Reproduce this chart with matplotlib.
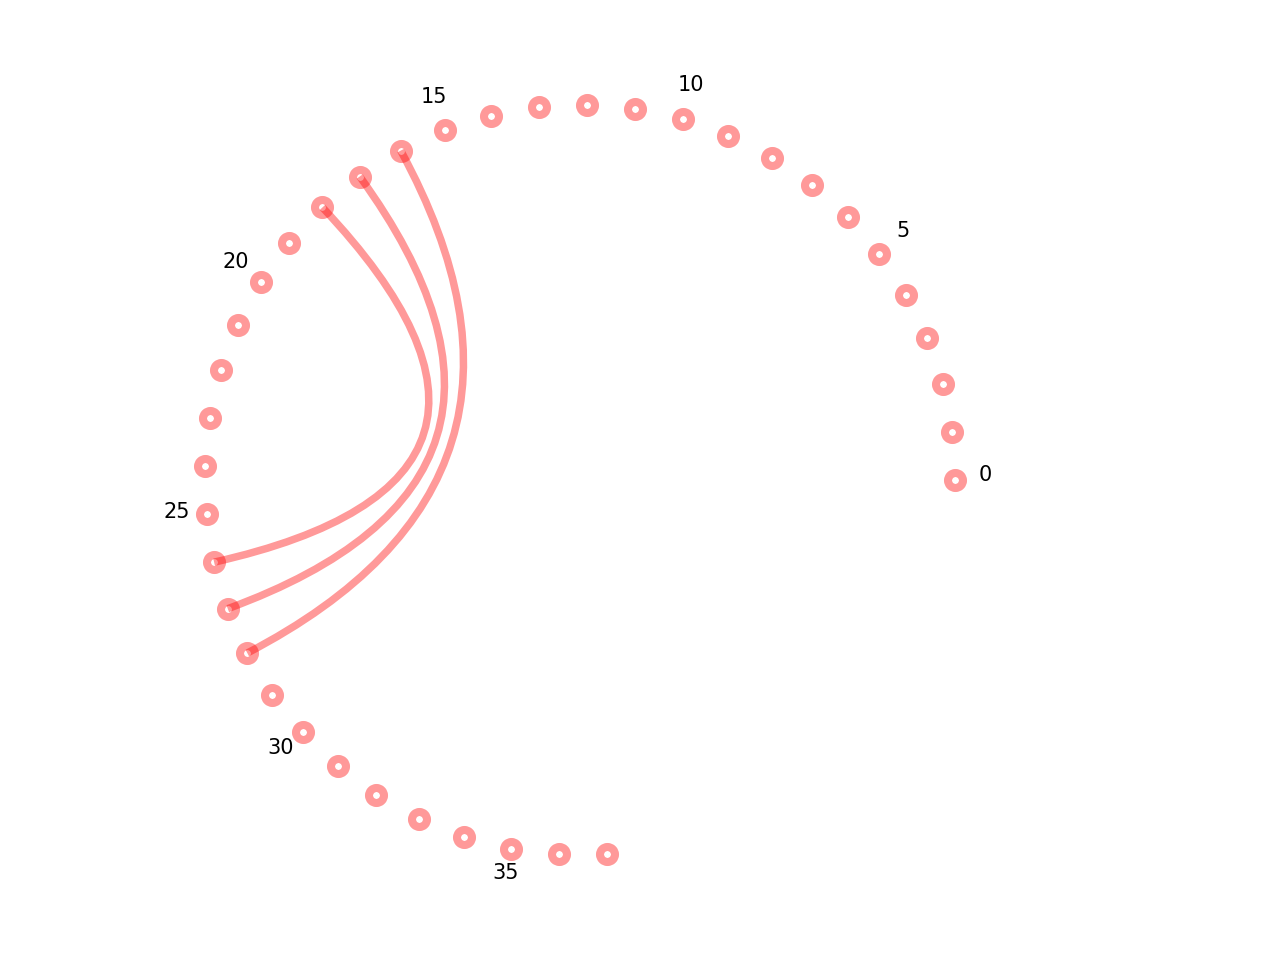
import numpy as np
from matplotlib import pyplot as plt
from matplotlib.path import Path
from matplotlib.patches import PathPatch

# circular layout of 38 positions with three paired links
n_nodes = 38
step_deg = 7.41
pairs = [(16, 28), (17, 27), (18, 26)]
label_every = 5

fig = plt.figure(figsize=(12.8, 9.6), dpi=100)
ax = fig.add_axes([0, 0, 1, 1])
ax.set_xlim(-580 / 375, 700 / 375)
ax.set_ylim(-480 / 375, 480 / 375)
ax.set_aspect('equal')
ax.axis('off')

ang = np.deg2rad(np.arange(n_nodes) * step_deg)
xs, ys = np.cos(ang), np.sin(ang)

for a, b in pairs:
    verts = [(xs[a], ys[a]), (0, 0), (xs[b], ys[b])]
    codes = [Path.MOVETO, Path.CURVE3, Path.CURVE3]
    ax.add_patch(PathPatch(Path(verts, codes), facecolor='none',
                           edgecolor='red', alpha=0.4, lw=5.4, capstyle='butt'))

ax.plot(xs, ys, ls='none', marker='o', markersize=10.8, markeredgewidth=5.8,
        markerfacecolor='none', markeredgecolor=(1, 0, 0, 0.4))

for i in range(0, n_nodes, label_every):
    r = 1.08
    ax.text(r * np.cos(ang[i]), r * np.sin(ang[i]) + 5 / 375, str(i),
            ha='center', va='center', fontsize=15)

fig.savefig('out.png')
